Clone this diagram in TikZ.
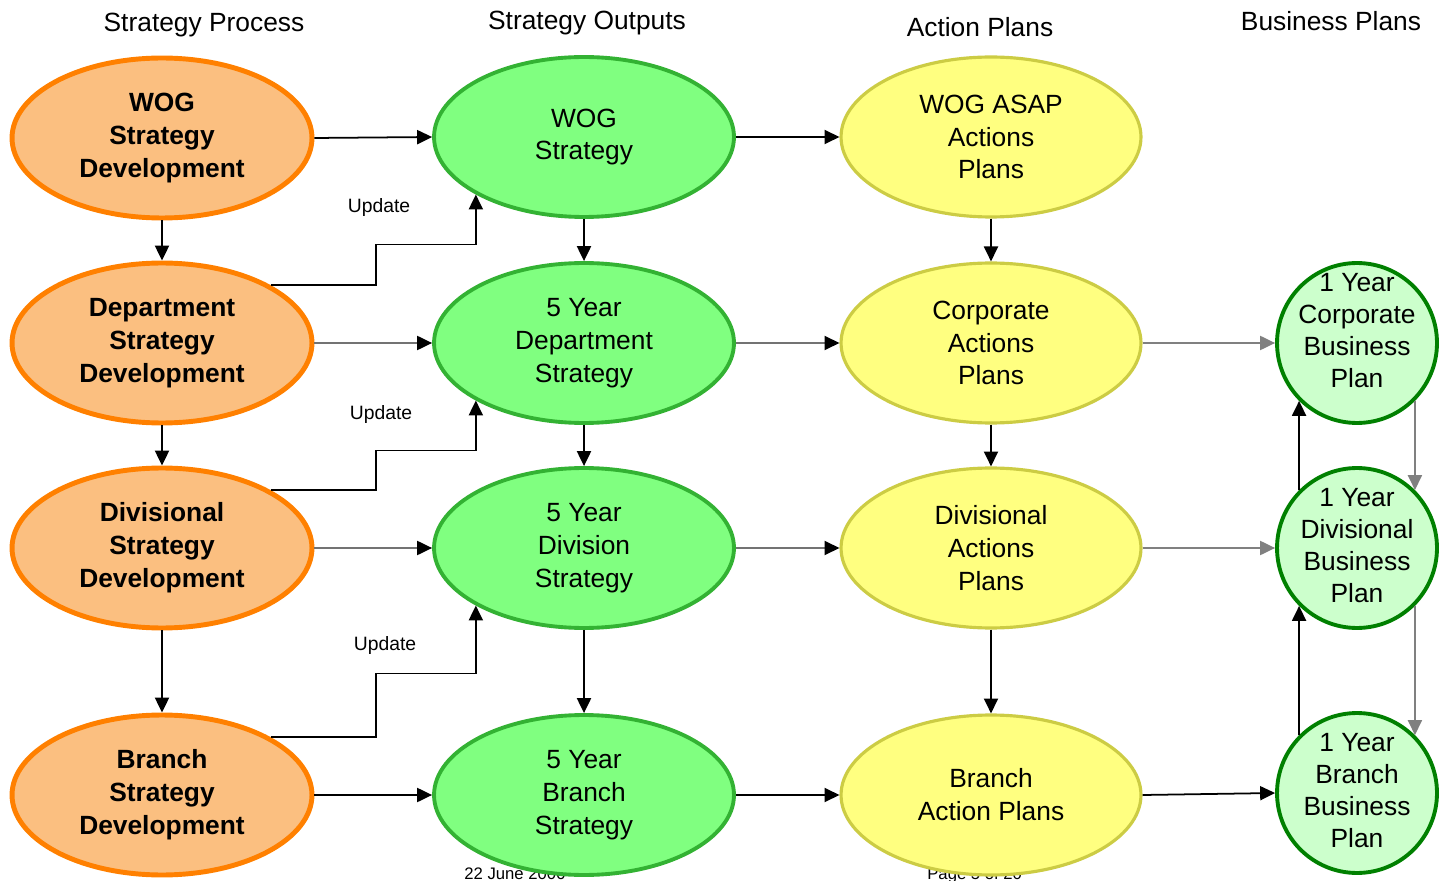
\documentclass[tikz,border=0pt]{standalone}
\usepackage{fontspec}
\setmainfont{Liberation Sans}
\usetikzlibrary{shapes.geometric,arrows.meta,calc}

\definecolor{procfill}{RGB}{251,191,128}
\definecolor{procedge}{RGB}{255,128,0}
\definecolor{outfill}{RGB}{128,255,128}
\definecolor{outedge}{RGB}{51,178,51}
\definecolor{actfill}{RGB}{255,255,128}
\definecolor{actedge}{RGB}{204,204,68}
\definecolor{planfill}{RGB}{204,255,204}
\definecolor{planedge}{RGB}{0,128,0}

\tikzset{
  bubble/.style={ellipse, minimum width=6cm, minimum height=3.2cm, align=center,
    inner sep=0pt, font=\fontsize{15}{18.7}\selectfont},
  procnode/.style={bubble, fill=procfill, draw=procedge, line width=2.8pt,
    font=\fontsize{15}{18.7}\selectfont\bfseries},
  outnode/.style={bubble, fill=outfill, draw=outedge, line width=2.2pt},
  actnode/.style={bubble, fill=actfill, draw=actedge, line width=1.8pt},
  plannode/.style={circle, minimum size=3.2cm, inner sep=0pt, fill=planfill,
    draw=planedge, line width=2.2pt},
  plantext/.style={align=center, font=\fontsize{15}{18.2}\selectfont},
  flow/.style={-{Triangle[length=8.5pt,width=8pt]}, line width=1pt},
  softflow/.style={-{Triangle[length=8.5pt,width=8pt,fill=black,color=black]}, line width=1pt, draw=black!55},
  grayflow/.style={flow, draw=black!50},
  header/.style={font=\fontsize{15}{18}\selectfont},
  updlabel/.style={font=\fontsize{11}{13}\selectfont},
  footer/.style={anchor=north west, inner sep=0pt, font=\fontsize{9.5}{11}\selectfont},
}

\begin{document}
\begin{tikzpicture}[x=0.02cm,y=-0.02cm]

\useasboundingbox (0,0) rectangle (1446,881);

% Footer (partly hidden behind the ellipses)
\node[footer] (date) at (464,867) {22 June 2006};
\node[footer] (page) at (927,867) {Page 5 of 20};

% Column headers
\node[header] (hdproc) at (204,25) {Strategy Process};
\node[header] (hdout) at (587,23) {Strategy Outputs};
\node[header] (hdact) at (980,27) {Action Plans};
\node[header] (hdplan) at (1331,21) {Business Plans};

% Strategy process
\node[procnode] (proc1) at (162,138) {WOG\\Strategy\\Development};
\node[procnode] (proc2) at (162,343) {Department\\Strategy\\Development};
\node[procnode] (proc3) at (162,548) {Divisional\\Strategy\\Development};
\node[procnode] (proc4) at (162,795) {Branch\\Strategy\\Development};

% Strategy outputs
\node[outnode] (out1) at (584,137) {WOG\\Strategy};
\node[outnode] (out2) at (584,343) {5 Year\\Department\\Strategy};
\node[outnode] (out3) at (584,548) {5 Year\\Division\\Strategy};
\node[outnode] (out4) at (584,795) {5 Year\\Branch\\Strategy};

% Action plans
\node[actnode] (act1) at (991,137) {WOG ASAP\\Actions\\Plans};
\node[actnode] (act2) at (991,343) {Corporate\\Actions\\Plans};
\node[actnode] (act3) at (991,548) {Divisional\\Actions\\Plans};
\node[actnode] (act4) at (991,795) {Branch\\Action Plans};

% Business plans
\node[plannode, label={[plantext, yshift=0.25cm]center:{1 Year\\Corporate\\Business\\Plan}}] (plan1) at (1357,343) {};
\node[plannode, label={[plantext, yshift=0.05cm]center:{1 Year\\Divisional\\Business\\Plan}}] (plan2) at (1357,548) {};
\node[plannode, label={[plantext, yshift=0.05cm]center:{1 Year\\Branch\\Business\\Plan}}] (plan3) at (1357,793) {};

% Horizontal flows
\draw[flow] (proc1.east) -- (out1.west);
\draw[softflow] (proc2.east) -- (out2.west);
\draw[softflow] (proc3.east) -- (out3.west);
\draw[flow] (proc4.east) -- (out4.west);
\draw[flow] (out1.east) -- (act1.west);
\draw[softflow] (out2.east) -- (act2.west);
\draw[softflow] (out3.east) -- (act3.west);
\draw[flow] (out4.east) -- (act4.west);
\draw[grayflow] (act2.east) -- (plan1.west);
\draw[grayflow] (act3.east) -- (plan2.west);
\draw[flow] (act4.east) -- (plan3.west);

% Vertical flows
\draw[flow] (proc1) -- (proc2);
\draw[flow] (proc2) -- (proc3);
\draw[flow] (proc3) -- (proc4);
\draw[flow] (out1) -- (out2);
\draw[flow] (out2) -- (out3);
\draw[flow] (out3) -- (out4);
\draw[flow] (act1) -- (act2);
\draw[flow] (act2) -- (act3);
\draw[flow] (act3) -- (act4);

% Update loops
\draw[flow] (proc2.28) -- ++(105,0) |- ($(out1.208)+(0,50)$) -- (out1.208);
\draw[flow] (proc3.28) -- ++(105,0) |- ($(out2.208)+(0,50)$) -- (out2.208);
\draw[flow] (proc4.28) -- ++(105,0) |- ($(out3.208)+(0,68)$) -- (out3.208);
\node[updlabel] (upd1) at (379,208) {Update};
\node[updlabel] (upd2) at (381,415) {Update};
\node[updlabel] (upd3) at (385,646) {Update};

% Business plan links
\draw[flow] (plan3.135) -- (plan2.225);
\draw[flow] (plan2.135) -- (plan1.225);
\draw[grayflow] (plan1.315) -- (plan2.45);
\draw[grayflow] (plan2.315) -- (plan3.45);

\end{tikzpicture}
\end{document}
